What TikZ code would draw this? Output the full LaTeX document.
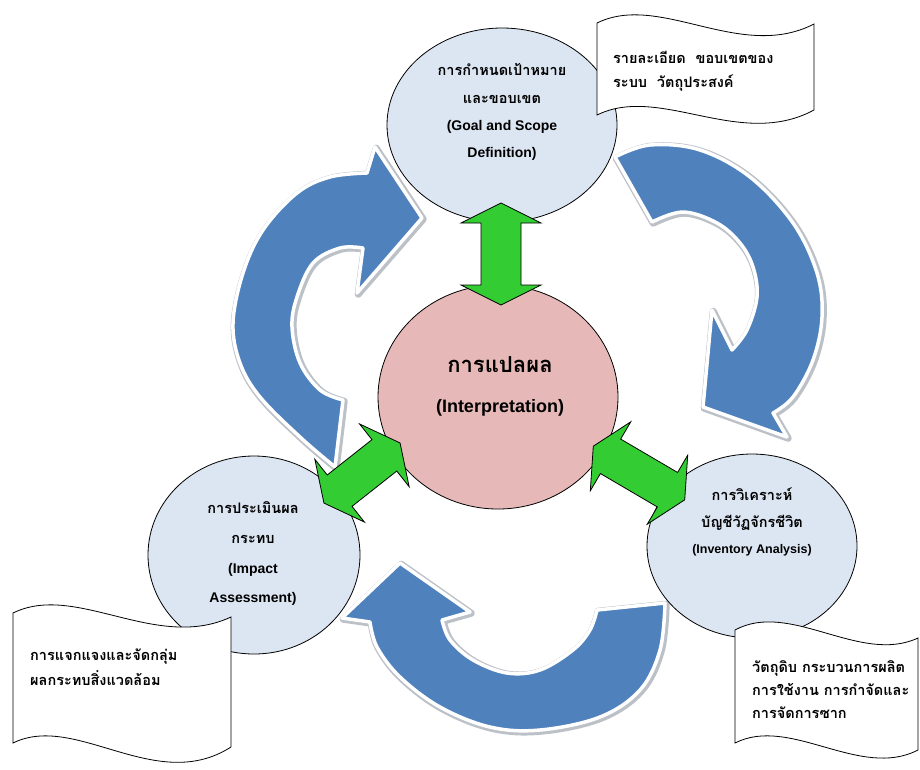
\documentclass[tikz,border=0pt]{standalone}
\usepackage{fontspec}
\setmainfont{Liberation Sans}
\newfontfamily\thai[Script=Thai]{Loma}
\usetikzlibrary{shapes.geometric}

\definecolor{cycleblue}{RGB}{79,129,189}
\definecolor{stagefill}{RGB}{220,230,242}
\definecolor{corefill}{RGB}{230,185,184}
\definecolor{linkgreen}{RGB}{51,204,51}
\definecolor{rimgray}{RGB}{188,193,200}

\tikzset{
  stage/.style={ellipse, draw=black, line width=0.8pt, fill=stagefill, inner sep=0pt},
  core/.style={ellipse, draw=black, line width=0.8pt, fill=corefill, inner sep=0pt},
  th/.style={font=\thai\bfseries\fontsize{14.5}{16}\selectfont, anchor=base, inner sep=0pt},
  en/.style={font=\bfseries\fontsize{14}{16}\selectfont, anchor=base, inner sep=0pt},
  note/.style={font=\thai\bfseries\fontsize{14.5}{16}\selectfont, anchor=base west, inner sep=0pt},
  tape/.style={draw=black, line width=0.8pt, fill=white},
  cyclearrow/.style={fill=cycleblue, draw=white, line width=3.5pt, line join=round},
  cyclerim/.style={draw=rimgray, line width=7pt, line join=round},
  link/.style={fill=linkgreen, draw=black, line width=0.8pt, line join=miter},
}

% double-headed link arrow: centre x, centre y, angle, half length
\newcommand\linkarrow[4]{%
  \begin{scope}[shift={(#1,#2)}, rotate=#3]
    \filldraw[link] (-#4,0) -- (-#4+20,40) -- (-#4+20,20) -- (#4-20,20)
      -- (#4-20,40) -- (#4,0) -- (#4-20,-40) -- (#4-20,-20)
      -- (-#4+20,-20) -- (-#4+20,-40) -- cycle;
  \end{scope}}

% outlines of the three curved cycle arrows
\def\leftcycle{plot[smooth, tension=0.6] coordinates {(335,467) (300,437) (260,397) (240,363)
  (233,323) (243,273) (263,230) (297,193) (330,177) (367,173)}
  -- (375,147) -- (422,218) -- (357,293) -- (363,248)
  -- plot[smooth, tension=0.6] coordinates {(363,248) (340,248) (313,263) (297,297) (292,327)
  (300,363) (320,390) (343,400)} -- cycle}
\def\rightcycle{plot[smooth, tension=0.6] coordinates {(615,157) (650,145) (700,150) (750,177)
  (793,223) (817,273) (822,317) (813,360) (793,397) (773,413)}
  -- (787,437) -- (703,407) -- (712,310) -- (732,350)
  -- plot[smooth, tension=0.6] coordinates {(732,350) (747,330) (757,297) (753,267) (740,243)
  (717,223) (683,212) (652,222)} -- cycle}
\def\bottomcycle{plot[smooth, tension=0.6] coordinates {(665,603) (660,650) (640,690) (600,717)
  (540,730) (490,727) (440,707) (400,677) (377,647) (370,622)}
  -- (342,618) -- (400,563) -- (470,612) -- (442,620)
  -- plot[smooth, tension=0.6] coordinates {(442,620) (450,640) (473,660) (507,673) (540,670)
  (573,650) (590,630) (597,610)} -- cycle}

\begin{document}
\begin{tikzpicture}[x=1pt, y=-1pt]
  \useasboundingbox (0,0) rectangle (920,769);
  \fill[white] (0,0) rectangle (920,769);

  % cycle arrows
  \draw[cyclerim, shift={(1.2,1.2)}] \leftcycle;
  \draw[cyclerim, shift={(1.2,1.2)}] \rightcycle;
  \draw[cyclerim, shift={(1.2,1.2)}] \bottomcycle;
  \filldraw[cyclearrow] \leftcycle;
  \filldraw[cyclearrow] \rightcycle;
  \filldraw[cyclearrow] \bottomcycle;

  % stages
  \node[stage, minimum width=230pt, minimum height=194pt] (goal) at (502,125) {};
  \node[stage, minimum width=210pt, minimum height=184pt] (inventory) at (752,546) {};
  \node[stage, minimum width=212pt, minimum height=198pt] (impact) at (254,555) {};
  \node[core, minimum width=240pt, minimum height=224pt] (interp) at (498,397) {};

  % links between the interpretation and each stage
  \linkarrow{501}{254}{90}{51}
  \linkarrow{362}{473}{38.3}{48.5}
  \linkarrow{639}{473}{-30.4}{53}

  % notes
  \draw[tape] (597,23) .. controls (660,-8) and (740,62) .. (814,24)
    -- (814,110) .. controls (740,150) and (660,84) .. (597,115) -- cycle;
  \draw[tape] (13,613) .. controls (76,582) and (156,652) .. (231,617)
    -- (231,747) .. controls (156,795) and (76,712) .. (13,743) -- cycle;
  \draw[tape] (735,630) .. controls (790,600) and (860,665) .. (918,638)
    -- (918,750) .. controls (860,780) and (790,715) .. (735,743) -- cycle;

  % stage texts
  \node[th] (goalth1) at (502,75) {การกำหนดเป้าหมาย};
  \node[th] (goalth2) at (502,103) {และขอบเขต};
  \node[en] (goalen1) at (502,130) {(Goal and Scope};
  \node[en] (goalen2) at (502,157) {Definition)};

  \node[th, font=\thai\bfseries\fontsize{22}{24}\selectfont] (interpth) at (500,372) {การแปลผล};
  \node[en, font=\bfseries\fontsize{18}{20}\selectfont] (interpen) at (500,412) {(Interpretation)};

  \node[th] (invth1) at (752,500) {การวิเคราะห์};
  \node[th] (invth2) at (752,527) {บัญชีวัฏจักรชีวิต};
  \node[en, font=\bfseries\fontsize{12.5}{14}\selectfont] (inven) at (752,553) {(Inventory Analysis)};

  \node[th] (impth1) at (253,513) {การประเมินผล};
  \node[th] (impth2) at (253,543) {กระทบ};
  \node[en] (impen1) at (253,573) {(Impact};
  \node[en] (impen2) at (253,602) {Assessment)};

  % note texts
  \node[note] (goalnote1) at (613,63) {รายละเอียด\ \ ขอบเขตของ};
  \node[note] (goalnote2) at (613,87) {ระบบ\ \ วัตถุประสงค์};
  \node[note] (impnote1) at (30,660) {การแจกแจงและจัดกลุ่ม};
  \node[note] (impnote2) at (30,685) {ผลกระทบสิ่งแวดล้อม};
  \node[note] (invnote1) at (752,672) {วัตถุดิบ กระบวนการผลิต};
  \node[note] (invnote2) at (752,695) {การใช้งาน การกำจัดและ};
  \node[note] (invnote3) at (752,718) {การจัดการซาก};
\end{tikzpicture}
\end{document}
